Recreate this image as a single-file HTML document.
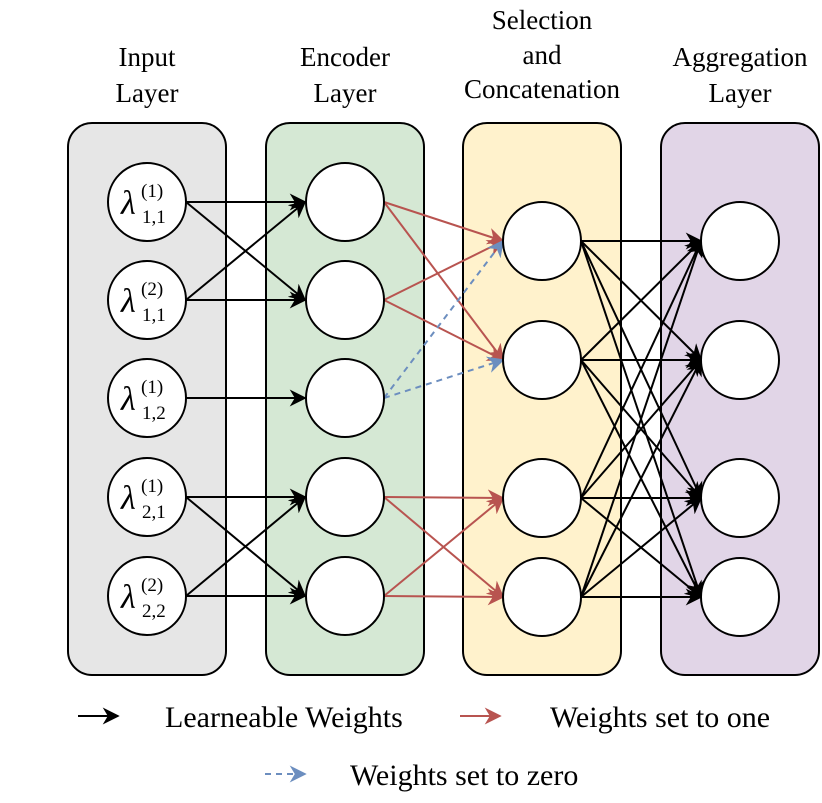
<!DOCTYPE html>
<html><head><meta charset="utf-8"><style>
html,body{margin:0;padding:0;background:#fff}
svg{display:block}
text{font-family:"Liberation Serif",serif;fill:#000}
</style></head><body>
<svg width="822" height="803" viewBox="0 0 822 803" xmlns="http://www.w3.org/2000/svg">
<defs>
<marker id="ak" viewBox="0 0 10 10" refX="9" refY="5" markerWidth="17" markerHeight="17" orient="auto" markerUnits="userSpaceOnUse"><path d="M0,0 L10,5 L0,10 L3,5 z" fill="#000"/></marker>
<marker id="ar" viewBox="0 0 10 10" refX="9" refY="5" markerWidth="17" markerHeight="17" orient="auto" markerUnits="userSpaceOnUse"><path d="M0,0 L10,5 L0,10 L3,5 z" fill="#b85450"/></marker>
<marker id="ab" viewBox="0 0 10 10" refX="9" refY="5" markerWidth="17" markerHeight="17" orient="auto" markerUnits="userSpaceOnUse"><path d="M0,0 L10,5 L0,10 L3,5 z" fill="#6c8ebf"/></marker>
</defs>
<g font-size="27" text-anchor="middle">
<text x="147" y="66">Input</text><text x="147" y="102">Layer</text>
<text x="345" y="66">Encoder</text><text x="345" y="102">Layer</text>
<text x="542" y="29">Selection</text><text x="542" y="64">and</text><text x="542" y="98">Concatenation</text>
<text x="740" y="66">Aggregation</text><text x="740" y="102">Layer</text>
</g>
<rect x="68" y="123" width="158" height="552" rx="24" fill="#e6e6e6" stroke="#000" stroke-width="2"/>
<rect x="266" y="123" width="158" height="552" rx="24" fill="#d5e8d4" stroke="#000" stroke-width="2"/>
<rect x="463" y="123" width="158" height="552" rx="24" fill="#fff2cc" stroke="#000" stroke-width="2"/>
<rect x="661" y="123" width="158" height="552" rx="24" fill="#e1d5e7" stroke="#000" stroke-width="2"/>
<g stroke="#000" stroke-width="2" fill="none" marker-end="url(#ak)">
<line x1="186" y1="202" x2="305" y2="202"/><line x1="186" y1="202" x2="305" y2="300"/>
<line x1="186" y1="300" x2="305" y2="202"/><line x1="186" y1="300" x2="305" y2="300"/>
<line x1="186" y1="398" x2="305" y2="398"/>
<line x1="186" y1="497" x2="305" y2="497"/><line x1="186" y1="497" x2="305" y2="596"/>
<line x1="186" y1="596" x2="305" y2="497"/><line x1="186" y1="596" x2="305" y2="596"/>
</g>
<g stroke="#b85450" stroke-width="2" fill="none" marker-end="url(#ar)">
<line x1="384" y1="202" x2="503" y2="241"/><line x1="384" y1="202" x2="503" y2="360"/>
<line x1="384" y1="300" x2="503" y2="241"/><line x1="384" y1="300" x2="503" y2="360"/>
<line x1="384" y1="497" x2="503" y2="498"/><line x1="384" y1="497" x2="503" y2="597"/>
<line x1="384" y1="596" x2="503" y2="498"/><line x1="384" y1="596" x2="503" y2="597"/>
</g>
<g stroke="#6c8ebf" stroke-width="2" stroke-dasharray="6,5" fill="none" marker-end="url(#ab)">
<line x1="384" y1="398" x2="503" y2="241"/><line x1="384" y1="398" x2="503" y2="360"/>
</g>
<g stroke="#000" stroke-width="2" fill="none" marker-end="url(#ak)">
<line x1="581" y1="241" x2="701" y2="241"/><line x1="581" y1="241" x2="701" y2="360"/><line x1="581" y1="241" x2="701" y2="498"/><line x1="581" y1="241" x2="701" y2="597"/>
<line x1="581" y1="360" x2="701" y2="241"/><line x1="581" y1="360" x2="701" y2="360"/><line x1="581" y1="360" x2="701" y2="498"/><line x1="581" y1="360" x2="701" y2="597"/>
<line x1="581" y1="498" x2="701" y2="241"/><line x1="581" y1="498" x2="701" y2="360"/><line x1="581" y1="498" x2="701" y2="498"/><line x1="581" y1="498" x2="701" y2="597"/>
<line x1="581" y1="597" x2="701" y2="241"/><line x1="581" y1="597" x2="701" y2="360"/><line x1="581" y1="597" x2="701" y2="498"/><line x1="581" y1="597" x2="701" y2="597"/>
</g>
<g fill="#fff" stroke="#000" stroke-width="2">
<circle cx="147" cy="202" r="39"/><circle cx="147" cy="300" r="39"/><circle cx="147" cy="398" r="39"/><circle cx="147" cy="497" r="39"/><circle cx="147" cy="596" r="39"/>
<circle cx="345" cy="202" r="39"/><circle cx="345" cy="300" r="39"/><circle cx="345" cy="398" r="39"/><circle cx="345" cy="497" r="39"/><circle cx="345" cy="596" r="39"/>
<circle cx="542" cy="241" r="39"/><circle cx="542" cy="360" r="39"/><circle cx="542" cy="498" r="39"/><circle cx="542" cy="597" r="39"/>
<circle cx="740" cy="241" r="39"/><circle cx="740" cy="360" r="39"/><circle cx="740" cy="498" r="39"/><circle cx="740" cy="597" r="39"/>
</g>
<g>
<g><text x="121" y="214" font-size="34" font-style="italic">λ</text><text x="141" y="197" font-size="19">(1)</text><text x="142" y="223" font-size="19">1,1</text></g>
<g transform="translate(0,98)"><text x="121" y="214" font-size="34" font-style="italic">λ</text><text x="141" y="197" font-size="19">(2)</text><text x="142" y="223" font-size="19">1,1</text></g>
<g transform="translate(0,196)"><text x="121" y="214" font-size="34" font-style="italic">λ</text><text x="141" y="197" font-size="19">(1)</text><text x="142" y="223" font-size="19">1,2</text></g>
<g transform="translate(0,295)"><text x="121" y="214" font-size="34" font-style="italic">λ</text><text x="141" y="197" font-size="19">(1)</text><text x="142" y="223" font-size="19">2,1</text></g>
<g transform="translate(0,394)"><text x="121" y="214" font-size="34" font-style="italic">λ</text><text x="141" y="197" font-size="19">(2)</text><text x="142" y="223" font-size="19">2,2</text></g>
</g>
<line x1="78" y1="716" x2="118" y2="716" stroke="#000" stroke-width="2" marker-end="url(#ak)"/>
<text x="165" y="727" font-size="30">Learneable Weights</text>
<line x1="460" y1="716" x2="500" y2="716" stroke="#b85450" stroke-width="2" marker-end="url(#ar)"/>
<text x="550" y="727" font-size="30">Weights set to one</text>
<line x1="265" y1="774" x2="305" y2="774" stroke="#6c8ebf" stroke-width="2" stroke-dasharray="6,5" marker-end="url(#ab)"/>
<text x="350" y="785" font-size="30">Weights set to zero</text>
</svg>
</body></html>
